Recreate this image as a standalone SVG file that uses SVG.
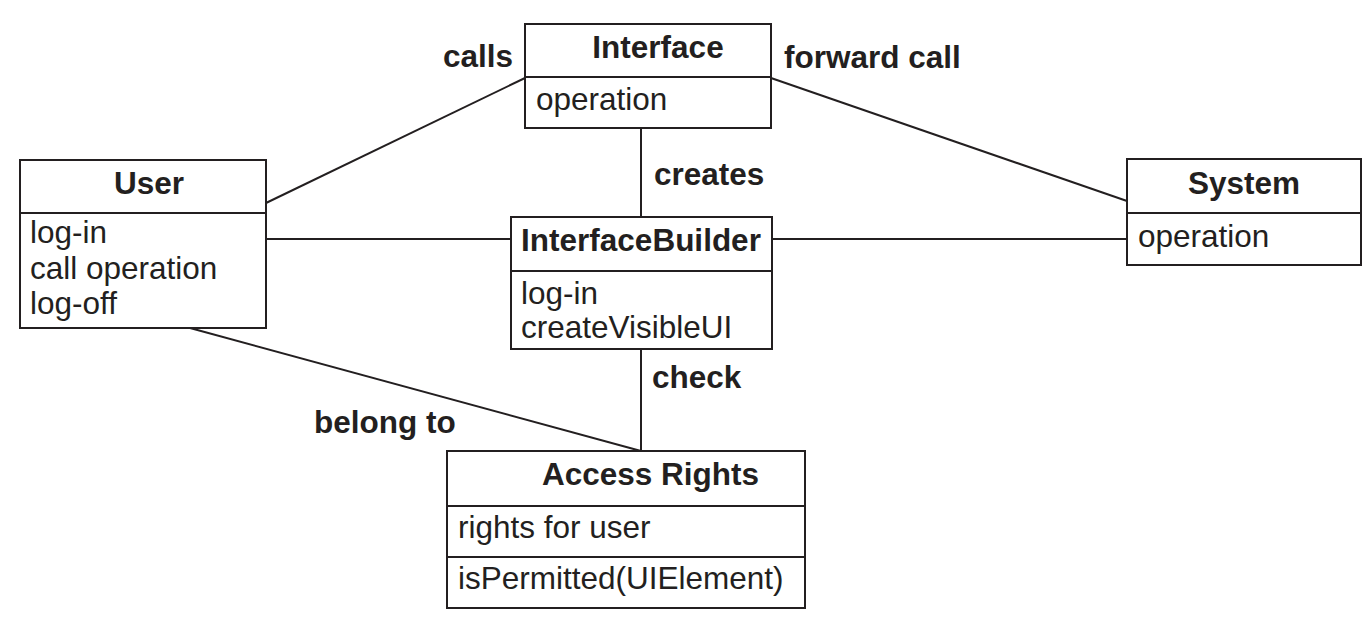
<svg xmlns="http://www.w3.org/2000/svg" width="1371" height="623" viewBox="0 0 1371 623">
<style>
.box{fill:#fff;stroke:#231f20;stroke-width:2}
.div{stroke:#231f20;stroke-width:2}
.conn line{stroke:#231f20;stroke-width:2}
text{font-family:"Liberation Sans",Arial,sans-serif;font-size:31.5px;fill:#231f20}
.b{font-weight:bold}
.c{text-anchor:middle}
</style>
<rect width="1371" height="623" fill="#fff"/>
<g id="connectors" class="conn">
<line x1="266" y1="203" x2="525" y2="78"/>
<line x1="771" y1="78" x2="1127" y2="201"/>
<line x1="641" y1="128" x2="641" y2="217"/>
<line x1="266" y1="239" x2="511" y2="239"/>
<line x1="772" y1="239" x2="1127" y2="239"/>
<line x1="641" y1="349" x2="641" y2="451"/>
<line x1="190" y1="328" x2="641" y2="451"/>
</g>
<g id="labels">
<text class="b" x="443" y="67">calls</text>
<text class="b" x="784" y="68">forward call</text>
<text class="b" x="654" y="185">creates</text>
<text class="b" x="652" y="388">check</text>
<text class="b" x="314" y="433">belong to</text>
</g>
<g id="Interface">
<rect class="box" x="525" y="24" width="246" height="104"/>
<line class="div" x1="525" y1="77" x2="771" y2="77"/>
<text class="b c" x="658" y="58">Interface</text>
<text x="536" y="110">operation</text>
</g>
<g id="User">
<rect class="box" x="20" y="160" width="246" height="168"/>
<line class="div" x1="20" y1="213" x2="266" y2="213"/>
<text class="b c" x="149" y="194">User</text>
<text x="30" y="243">log-in</text>
<text x="30" y="279">call operation</text>
<text x="30" y="314">log-off</text>
</g>
<g id="InterfaceBuilder">
<rect class="box" x="511" y="217" width="261" height="132"/>
<line class="div" x1="511" y1="271" x2="772" y2="271"/>
<text class="b c" x="641" y="251">InterfaceBuilder</text>
<text x="521" y="304">log-in</text>
<text x="521" y="338">createVisibleUI</text>
</g>
<g id="System">
<rect class="box" x="1127" y="159" width="234" height="106"/>
<line class="div" x1="1127" y1="213" x2="1361" y2="213"/>
<text class="b c" x="1244" y="194">System</text>
<text x="1138" y="247">operation</text>
</g>
<g id="AccessRights">
<rect class="box" x="447" y="451" width="358" height="157"/>
<line class="div" x1="447" y1="506" x2="805" y2="506"/>
<line class="div" x1="447" y1="557" x2="805" y2="557"/>
<text class="b" x="542" y="485">Access Rights</text>
<text x="458" y="538">rights for user</text>
<text x="458" y="589">isPermitted(UIElement)</text>
</g>
</svg>
